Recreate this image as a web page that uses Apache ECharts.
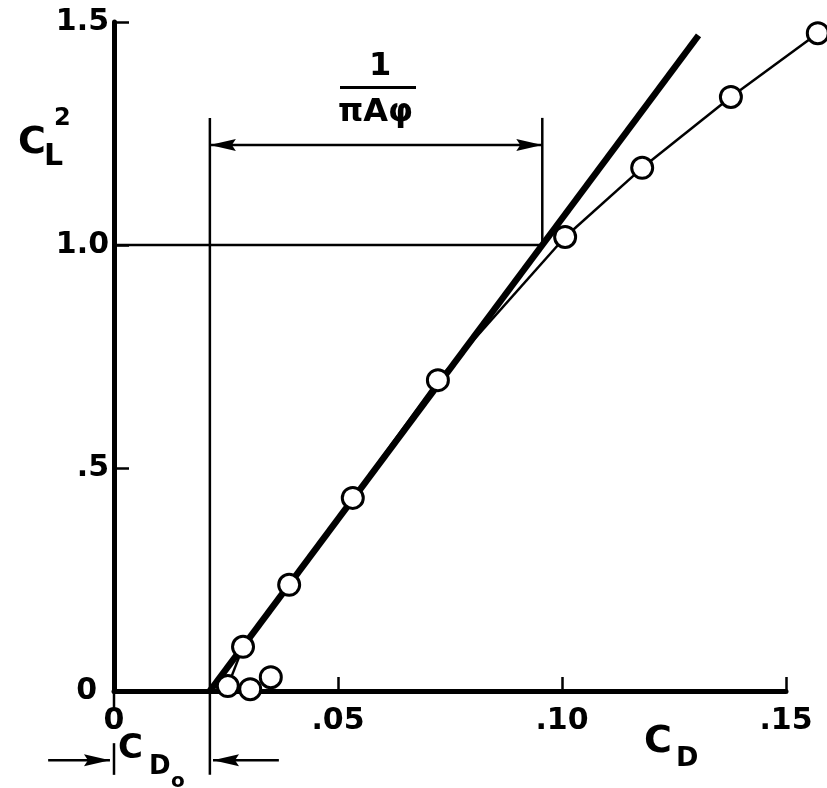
<!DOCTYPE html>
<html>
<head>
<meta charset="utf-8">
<script src="https://cdn.jsdelivr.net/npm/echarts@6/dist/echarts.min.js"></script>
<style>
  html, body { margin: 0; padding: 0; background: #fff; }
  #chart { width: 827px; height: 788px; }
</style>
</head>
<body>
<div id="chart"></div>
<script>
// Drag polar: C_L^2 plotted against C_D

// axis ticks and their labels
const xTicks = [0, 0.05, 0.10, 0.15];
const xTickLabels = ['0', '.05', '.10', '.15'];
const yTicks = [0, 0.5, 1.0, 1.5];
const yTickLabels = ['0', '.5', '1.0', '1.5'];

// measured points joined by the thin curve
const cdMeasured  = [0.0254, 0.0288, 0.0391, 0.0533, 0.0723, 0.1007, 0.1179, 0.1377, 0.1571];
const cl2Measured = [0.011, 0.099, 0.238, 0.433, 0.697, 1.018, 1.173, 1.332, 1.475];

// low-lift points left unconnected
const cdLoose  = [0.0304, 0.0350];
const cl2Loose = [0.004, 0.031];

// straight parabolic polar: C_D = C_D0 + C_L^2 / (pi A phi)
const cd0 = 0.0214;
const invPiAPhi = 0.0742;
const cl2LineEnd = 1.47;

const FONT = 'DejaVu Sans';
const BLACK = '#000';

const zip = (xs, ys) => xs.map((x, i) => [x, ys[i]]);
const cdAtUnit = cd0 + invPiAPhi;

// consecutive measured points as segments, so the curve may run past the axis end
const curveSegments = cdMeasured.slice(1).map((x, i) =>
  [cdMeasured[i], cl2Measured[i], x, cl2Measured[i + 1], 0, 0]);

// annotation segments in data units: [x1, y1, x2, y2, headAtStart, headAtEnd]
const bracketY = 1.224, bracketTop = 1.285, lowY = -0.155;
const guides = [
  [0, 1.0, cdAtUnit, 1.0, 0, 0],                 // C_L^2 = 1 reference line
  [cd0, bracketTop, cd0, -0.188, 0, 0],          // C_D0 marker line
  [cdAtUnit, bracketTop, cdAtUnit, 1.0, 0, 0],   // right edge of the 1/(pi A phi) span
  [cd0, bracketY, cdAtUnit, bracketY, 1, 1],     // 1/(pi A phi) span arrow
  [0, 0, 0, -0.04, 0, 0],                        // zero tick below the axis
  [0, -0.117, 0, -0.188, 0, 0],                  // left stop of the C_D0 span
  [-0.0147, lowY, -0.0009, lowY, 0, 1],          // arrow into C_D0 from the left
  [0.0368, lowY, cd0 + 0.0007, lowY, 0, 1]       // arrow into C_D0 from the right
];

function arrowHead(tip, from) {
  const dx = tip[0] - from[0], dy = tip[1] - from[1];
  const len = Math.hypot(dx, dy) || 1;
  const ux = dx / len, uy = dy / len;
  const L = 26, W = 6, N = 22;
  const bx = tip[0] - ux * L, by = tip[1] - uy * L;
  return [
    tip,
    [bx - uy * W, by + ux * W],
    [tip[0] - ux * N, tip[1] - uy * N],
    [bx + uy * W, by - ux * W]
  ];
}

function segmentRenderer(width) {
  return (params, api) => {
    const p1 = api.coord([api.value(0), api.value(1)]);
    const p2 = api.coord([api.value(2), api.value(3)]);
    const children = [{
      type: 'line',
      shape: { x1: p1[0], y1: p1[1], x2: p2[0], y2: p2[1] },
      style: { stroke: BLACK, lineWidth: width }
    }];
    if (api.value(4)) children.push({ type: 'polygon', shape: { points: arrowHead(p1, p2) }, style: { fill: BLACK } });
    if (api.value(5)) children.push({ type: 'polygon', shape: { points: arrowHead(p2, p1) }, style: { fill: BLACK } });
    return { type: 'group', children };
  };
}

const circleStyle = { color: '#fff', borderColor: BLACK, borderWidth: 3, opacity: 1 };
const labelFont = { color: BLACK, fontFamily: FONT, fontWeight: 'bold', fontSize: 30 };

const chart = echarts.init(document.getElementById('chart'), null, { renderer: 'canvas' });

chart.setOption({
  backgroundColor: '#fff',
  animation: false,
  grid: { left: 114, right: 41, top: 22, bottom: 97, containLabel: false },
  xAxis: {
    type: 'value', min: xTicks[0], max: xTicks[xTicks.length - 1], interval: 0.05,
    axisLine: { show: true, onZero: true, lineStyle: { color: BLACK, width: 5 } },
    axisTick: { show: true, inside: true, length: 14, lineStyle: { color: BLACK, width: 2.5 } },
    splitLine: { show: false },
    axisLabel: Object.assign({
      show: true, margin: 15, showMinLabel: true, showMaxLabel: true,
      formatter: v => { const i = xTicks.findIndex(t => Math.abs(t - v) < 1e-9); return i < 0 ? '' : xTickLabels[i]; }
    }, labelFont)
  },
  yAxis: {
    type: 'value', min: yTicks[0], max: yTicks[yTicks.length - 1], interval: 0.5,
    axisLine: { show: true, lineStyle: { color: BLACK, width: 5 } },
    axisTick: { show: true, inside: true, length: 15, lineStyle: { color: BLACK, width: 2.5 } },
    splitLine: { show: false },
    axisLabel: Object.assign({
      show: true, margin: 5, showMinLabel: true, showMaxLabel: true,
      // the zero label sits a little further from the axis
      formatter: v => {
        const i = yTicks.findIndex(t => Math.abs(t - v) < 1e-9);
        if (i < 0) return '';
        return i === 0 ? '{zero|' + yTickLabels[i] + '}' : yTickLabels[i];
      },
      rich: { zero: Object.assign({ padding: [0, 12, 0, 0] }, labelFont) }
    }, labelFont)
  },
  series: [
    {
      type: 'custom',
      clip: false,
      z: 3,
      data: guides,
      renderItem: segmentRenderer(2.5)
    },
    {
      type: 'line',
      clip: false,
      z: 4,
      symbol: 'none',
      lineStyle: { color: BLACK, width: 6.5, cap: 'butt' },
      data: [[cd0, 0], [cd0 + invPiAPhi * cl2LineEnd, cl2LineEnd]]
    },
    {
      type: 'custom',
      clip: false,
      z: 5,
      data: curveSegments,
      renderItem: segmentRenderer(2.5)
    },
    {
      type: 'scatter',
      clip: false,
      z: 6,
      symbol: 'circle',
      symbolSize: 21,
      itemStyle: circleStyle,
      data: zip(cdMeasured, cl2Measured).concat(zip(cdLoose, cl2Loose))
    }
  ],
  graphic: [
    // y-axis title C_L^2
    { type: 'text', left: 18, top: 124, style: { text: 'C', font: `bold 38px "${FONT}"`, fill: BLACK } },
    { type: 'text', left: 44, top: 142, style: { text: 'L', font: `bold 30px "${FONT}"`, fill: BLACK } },
    { type: 'text', left: 54, top: 107, style: { text: '2', font: `bold 24px "${FONT}"`, fill: BLACK } },
    // x-axis title C_D
    { type: 'text', left: 644, top: 723, style: { text: 'C', font: `bold 38px "${FONT}"`, fill: BLACK } },
    { type: 'text', left: 676, top: 745, style: { text: 'D', font: `bold 27px "${FONT}"`, fill: BLACK } },
    // C_D0 label under the axis
    { type: 'text', left: 118, top: 732, style: { text: 'C', font: `bold 34px "${FONT}"`, fill: BLACK } },
    { type: 'text', left: 149, top: 754, style: { text: 'D', font: `bold 26px "${FONT}"`, fill: BLACK } },
    { type: 'text', left: 171, top: 772, style: { text: 'o', font: `bold 20px "${FONT}"`, fill: BLACK } },
    // 1/(pi A phi) fraction
    { type: 'text', left: 369, top: 51, style: { text: '1', font: `bold 32px "${FONT}"`, fill: BLACK } },
    { type: 'rect', left: 340, top: 86, shape: { width: 76, height: 3 }, style: { fill: BLACK } },
    { type: 'text', left: 338, top: 97, style: { text: 'πAφ', font: `bold 32px "${FONT}"`, fill: BLACK } }
  ]
});
</script>
</body>
</html>
